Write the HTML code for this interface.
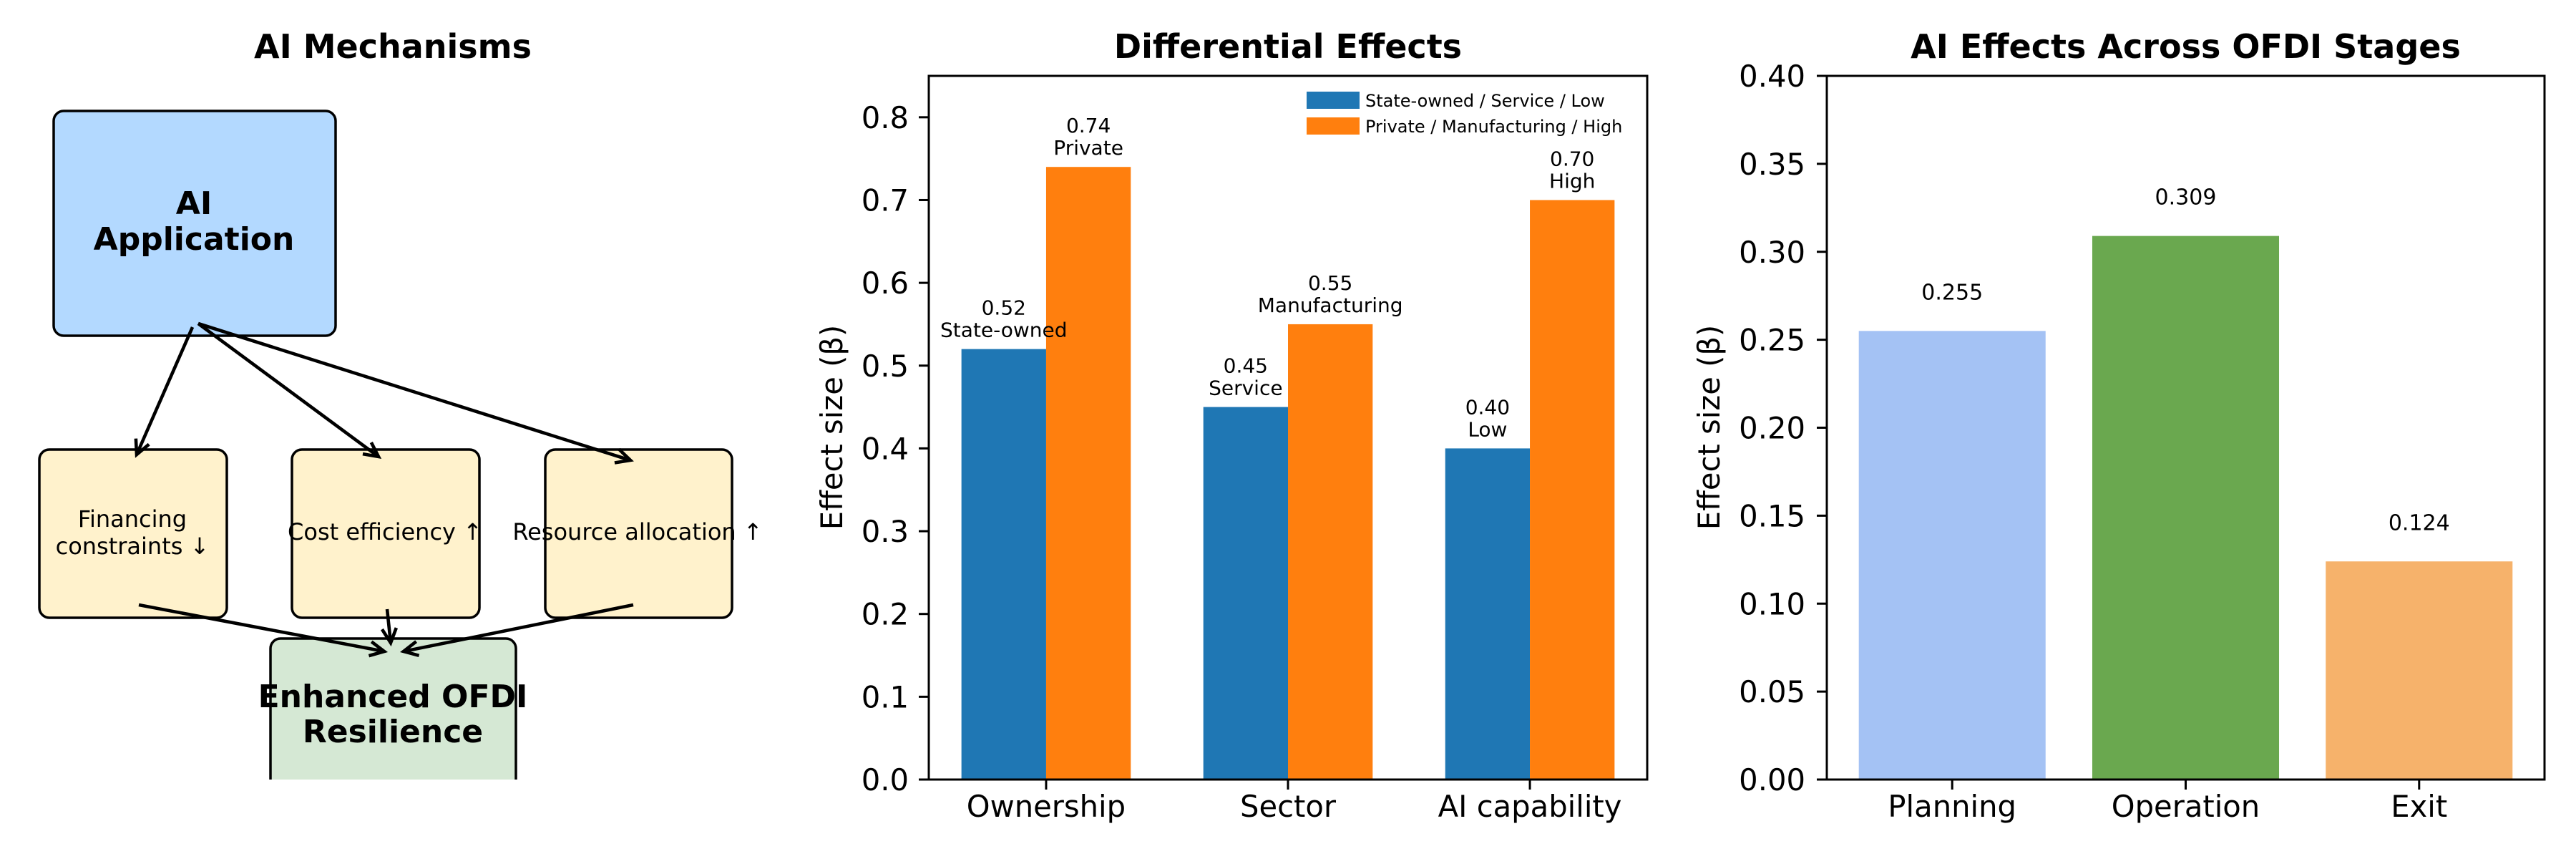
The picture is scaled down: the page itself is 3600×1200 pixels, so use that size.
<!DOCTYPE html>
<html><head><meta charset="utf-8"><style>
html,body{margin:0;padding:0;background:#fff;}
svg{display:block;font-family:"DejaVu Sans","Liberation Sans",sans-serif;}
</style></head><body>
<svg id="fig" width="3600" height="1200" viewBox="0 0 3600 1200">
<defs>
<marker id="ah" markerWidth="30" markerHeight="30" refX="22" refY="12" orient="auto" markerUnits="userSpaceOnUse">
<path d="M2,2 L22,12 L2,22" fill="none" stroke="#000" stroke-width="4.6"/>
</marker>
</defs>
<g>
<text x="549" y="81" text-anchor="middle" font-size="46" font-weight="bold">AI Mechanisms</text>
<rect x="75" y="155" width="394" height="314" rx="14" fill="#b3d9ff" stroke="#000" stroke-width="3.5"/>
<text x="271" y="299" text-anchor="middle" font-size="44" font-weight="bold"><tspan x="271">AI</tspan><tspan x="271" dy="50">Application</tspan></text>
<rect x="55" y="628" width="262" height="235" rx="14" fill="#fff2cc" stroke="#000" stroke-width="3.5"/>
<text x="185" y="736" text-anchor="middle" font-size="32"><tspan x="185">Financing</tspan><tspan x="185" dy="38">constraints ↓</tspan></text>
<rect x="408" y="628" width="262" height="235" rx="14" fill="#fff2cc" stroke="#000" stroke-width="3.5"/>
<text x="538" y="754" text-anchor="middle" font-size="32">Cost efficiency ↑</text>
<rect x="762" y="628" width="261" height="235" rx="14" fill="#fff2cc" stroke="#000" stroke-width="3.5"/>
<text x="891" y="754" text-anchor="middle" font-size="32">Resource allocation ↑</text>
<rect x="378" y="892" width="343" height="260" rx="14" fill="#d5e8d4" stroke="#000" stroke-width="3.5"/>
<rect x="360" y="1089" width="380" height="111" fill="#fff"/>
<text x="549" y="988" text-anchor="middle" font-size="44" font-weight="bold"><tspan x="549">Enhanced OFDI</tspan><tspan x="549" dy="49">Resilience</tspan></text>
<g stroke="#000" stroke-width="4.6" fill="none" marker-end="url(#ah)">
<line x1="269" y1="457" x2="191" y2="635"/>
<line x1="277" y1="452" x2="529" y2="638"/>
<line x1="277" y1="452" x2="881" y2="643"/>
<line x1="194" y1="845" x2="537" y2="910"/>
<line x1="541" y1="851" x2="546" y2="898"/>
<line x1="885" y1="845" x2="564" y2="910"/>
</g>
</g>
<g id="c2"></g>
<g id="c3"></g>
</svg>
<script>
const diffCategories = ["Ownership", "Sector", "AI capability"];
const diffSeriesA = [0.52, 0.45, 0.40];
const diffSeriesB = [0.74, 0.55, 0.70];
const diffLabelsA = ["State-owned", "Service", "Low"];
const diffLabelsB = ["Private", "Manufacturing", "High"];
const diffTicks = [0.0, 0.1, 0.2, 0.3, 0.4, 0.5, 0.6, 0.7, 0.8];
const diffLegend = ["State-owned / Service / Low", "Private / Manufacturing / High"];
const stageCategories = ["Planning", "Operation", "Exit"];
const stageValues = [0.255, 0.309, 0.124];
const stageTicks = [0.00, 0.05, 0.10, 0.15, 0.20, 0.25, 0.30, 0.35, 0.40];

const NS = "http://www.w3.org/2000/svg";
function mk(parent, tag, attrs, text) {
  const e = document.createElementNS(NS, tag);
  for (const k in attrs) e.setAttribute(k, attrs[k]);
  if (text !== undefined) e.textContent = text;
  parent.appendChild(e);
  return e;
}

// Chart 2
(function () {
  const g = document.getElementById('c2');
  const L = 1298, R = 2302, T = 106, B = 1089;
  const x0 = -0.485, x1 = 2.485, yMax = 0.85;
  const sx = v => L + (v - x0) / (x1 - x0) * (R - L);
  const sy = v => B - v / yMax * (B - T);
  const w = 0.35;
  const unit = (R - L) / (x1 - x0);
  diffCategories.forEach((c, i) => {
    const a = diffSeriesA[i], b = diffSeriesB[i];
    const ra = mk(g, 'rect', {x: sx(i - w), y: sy(a), width: w * unit, height: B - sy(a), fill: '#1f77b4'});
    
    
    const rb = mk(g, 'rect', {x: sx(i), y: sy(b), width: w * unit, height: B - sy(b), fill: '#ff7f0e'});
    
    
    [[a, i - w / 2, diffLabelsA[i]], [b, i + w / 2, diffLabelsB[i]]].forEach(([v, cx, lab], j) => {
      const t = mk(g, 'text', {x: sx(cx), y: sy(v) - 48, 'text-anchor': 'middle', 'font-size': 28}, v.toFixed(2));
      
      
      const t2 = mk(g, 'text', {x: sx(cx), y: sy(v) - 17, 'text-anchor': 'middle', 'font-size': 28}, lab);
      
      
    });
    const tk = mk(g, 'line', {x1: sx(i), x2: sx(i), y1: B, y2: B + 14, stroke: '#000', 'stroke-width': 3});
    
    
    const tl = mk(g, 'text', {x: sx(i), y: B + 52, 'text-anchor': 'middle', 'font-size': 41.7}, c);
    
    
  });
  diffTicks.forEach(v => {
    const tk = mk(g, 'line', {x1: L - 14, x2: L, y1: sy(v), y2: sy(v), stroke: '#000', 'stroke-width': 3});
    
    
    const tl = mk(g, 'text', {x: L - 28, y: sy(v) + 15, 'text-anchor': 'end', 'font-size': 41.7}, v.toFixed(1));
    
    
  });
  const fr = mk(g, 'rect', {x: L, y: T, width: R - L, height: B - T, fill: 'none', stroke: '#000', 'stroke-width': 3});
  
  
  const yl = mk(g, 'text', {x: 0, y: 0, transform: 'translate(1177,597) rotate(-90)', 'text-anchor': 'middle', 'font-size': 41.7}, 'Effect size (β)');
  
  
  const ti = mk(g, 'text', {x: (L + R) / 2, y: 81, 'text-anchor': 'middle', 'font-size': 46, 'font-weight': 'bold'}, 'Differential Effects');
  
  
  const cols = ['#1f77b4', '#ff7f0e'];
  diffLegend.forEach((s, j) => {
    const p = mk(g, 'rect', {x: 1826, y: 128 + j * 36, width: 74, height: 24, fill: cols[j]});
    
    
    const t = mk(g, 'text', {x: 1908, y: 149 + j * 36, 'font-size': 24}, s);
    
    
  });
})();

// Chart 3
(function () {
  const g = document.getElementById('c3');
  const L = 2553, R = 3556, T = 106, B = 1089;
  const x0 = -0.537, x1 = 2.537, yMax = 0.40;
  const sx = v => L + (v - x0) / (x1 - x0) * (R - L);
  const sy = v => B - v / yMax * (B - T);
  const unit = (R - L) / (x1 - x0);
  const cols = ['#a4c2f4', '#6aa84f', '#f6b26b'];
  stageCategories.forEach((c, i) => {
    const v = stageValues[i];
    const r = mk(g, 'rect', {x: sx(i - 0.4), y: sy(v), width: 0.8 * unit, height: B - sy(v), fill: cols[i]});
    
    
    const t = mk(g, 'text', {x: sx(i), y: sy(v) - 44, 'text-anchor': 'middle', 'font-size': 30}, v.toFixed(3));
    
    
    const tk = mk(g, 'line', {x1: sx(i), x2: sx(i), y1: B, y2: B + 14, stroke: '#000', 'stroke-width': 3});
    
    
    const tl = mk(g, 'text', {x: sx(i), y: B + 52, 'text-anchor': 'middle', 'font-size': 41.7}, c);
    
    
  });
  stageTicks.forEach(v => {
    const tk = mk(g, 'line', {x1: L - 14, x2: L, y1: sy(v), y2: sy(v), stroke: '#000', 'stroke-width': 3});
    
    
    const tl = mk(g, 'text', {x: L - 30, y: sy(v) + 15, 'text-anchor': 'end', 'font-size': 41.7}, v.toFixed(2));
    
    
  });
  const fr = mk(g, 'rect', {x: L, y: T, width: R - L, height: B - T, fill: 'none', stroke: '#000', 'stroke-width': 3});
  
  
  const yl = mk(g, 'text', {x: 0, y: 0, transform: 'translate(2403,597) rotate(-90)', 'text-anchor': 'middle', 'font-size': 41.7}, 'Effect size (β)');
  
  
  const ti = mk(g, 'text', {x: (L + R) / 2, y: 81, 'text-anchor': 'middle', 'font-size': 46, 'font-weight': 'bold'}, 'AI Effects Across OFDI Stages');
  
  
})();
</script>
</body></html>
